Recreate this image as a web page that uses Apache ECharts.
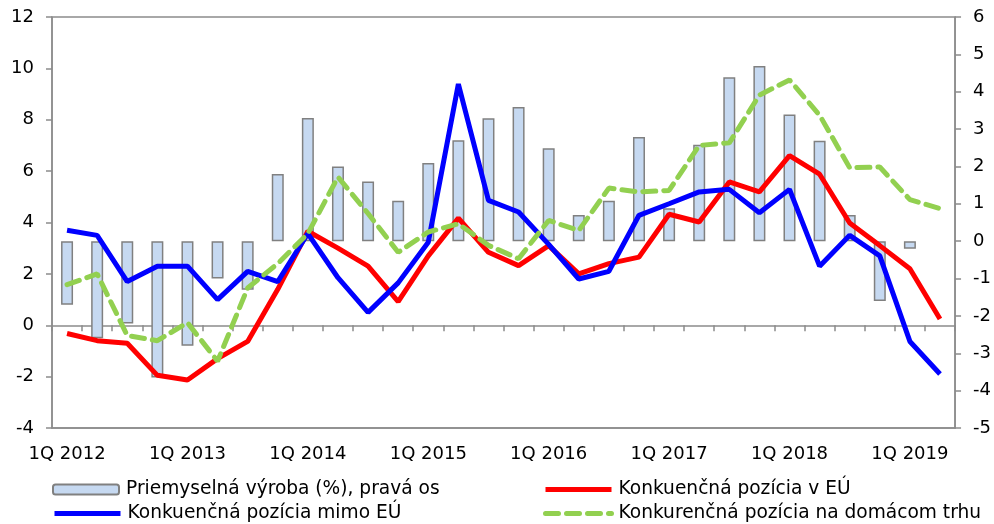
<!DOCTYPE html>
<html>
<head>
<meta charset="utf-8">
<script src="https://cdn.jsdelivr.net/npm/echarts@6/dist/echarts.min.js"></script>
<style>
  html, body { margin: 0; padding: 0; background: #fff; }
  #chart { width: 994px; height: 524px; }
</style>
</head>
<body>
<div id="chart"></div>
<script>
const years = [2012, 2013, 2014, 2015, 2016, 2017, 2018, 2019];
const quarters = [];
years.forEach(y => {
    for (let q = 1; q <= 4; q++) quarters.push(q + "Q " + y);
});
const categories = quarters.slice(0, 30);

// priemyselna vyroba, prava os
const industry = [-1.7, -2.6, -2.2, -3.65, -2.8, -1.0, -1.3, 1.8, 3.3, 2.0, 1.6, 1.08, 2.09, 2.7, 3.29, 3.59, 2.49, 0.7, 1.08, 2.79, 0.88, 2.58, 4.39, 4.69, 3.39, 2.69, 0.7, -1.6, -0.2, null];
// konkurencna pozicia v EU
const inEU = [-0.32, -0.6, -0.7, -1.95, -2.13, -1.3, -0.63, 1.4, 3.66, 3.0, 2.3, 0.92, 2.7, 4.17, 2.84, 2.32, 3.1, 2.0, 2.4, 2.65, 4.32, 4.02, 5.58, 5.19, 6.6, 5.88, 3.98, 3.1, 2.2, 0.24];
// konkurencna pozicia mimo EU
const outEU = [3.7, 3.5, 1.7, 2.3, 2.3, 1.0, 2.1, 1.7, 3.57, 1.85, 0.5, 1.65, 3.23, 9.39, 4.86, 4.41, 3.15, 1.8, 2.1, 4.28, 4.73, 5.19, 5.29, 4.38, 5.29, 2.3, 3.5, 2.7, -0.63, -1.9];
// konkurencna pozicia na domacom trhu
const domestic = [1.58, 2.0, -0.4, -0.6, 0.1, -1.4, 1.45, 2.4, 3.57, 5.77, 4.35, 2.84, 3.63, 3.95, 3.11, 2.59, 4.08, 3.69, 5.34, 5.19, 5.25, 7.0, 7.1, 8.96, 9.55, 8.18, 6.13, 6.16, 4.89, 4.54];

const names = [
    "Priemyselná výroba (%), pravá os",
    "Konkuenčná pozícia v EÚ",
    "Konkuenčná pozícia mimo EÚ",
    "Konkurenčná pozícia na domácom trhu"
];

const font = "DejaVu Sans";
const axisColor = "#8c8c8c";

const chart = echarts.init(document.getElementById("chart"));

function legendAt(i, left, top, lineItem) {
    const lg = {
        data: [names[i]],
        left: left,
        top: top,
        padding: 0,
        itemWidth: 66,
        itemHeight: 10,
        itemGap: 0,
        textStyle: { fontFamily: font, fontSize: 18.6, color: "#000", padding: [0, 0, 0, 2] }
    };
    if (lineItem) {
        lg.itemStyle = { opacity: 0 };
        lg.lineStyle = { width: 5 };
    }
    return lg;
}

chart.setOption({
    animation: false,
    grid: {
        left: 52, right: 37, top: 17, bottom: 96,
        show: true, borderColor: axisColor, borderWidth: 1.5
    },
    legend: [
        legendAt(0, 52, 480, false),
        legendAt(1, 543, 480, true),
        legendAt(2, 52, 504, true),
        legendAt(3, 543, 504, true)
    ],
    xAxis: [
        {
            type: "category",
            data: categories,
            position: "bottom",
            axisLine: { show: true, onZero: false, lineStyle: { color: axisColor, width: 1.5 } },
            axisTick: { show: false },
            axisLabel: { interval: 3, margin: 17, fontFamily: font, fontSize: 18, color: "#000" }
        },
        {
            type: "category",
            data: categories,
            position: "bottom",
            axisLine: { show: true, onZero: true, onZeroAxisIndex: 0, lineStyle: { color: axisColor, width: 1.5 } },
            axisTick: { show: true, interval: 0, length: 6, lineStyle: { color: axisColor, width: 1.5 } },
            axisLabel: { show: false }
        }
    ],
    yAxis: [
        {
            type: "value",
            min: -4, max: 12, interval: 2,
            axisLine: { show: true, lineStyle: { color: axisColor, width: 1.5 } },
            axisTick: { show: true, length: 6, lineStyle: { color: axisColor, width: 1.5 } },
            splitLine: { show: false },
            axisLabel: { margin: 18, fontFamily: font, fontSize: 18, color: "#000" }
        },
        {
            type: "value",
            min: -5, max: 6, interval: 1,
            position: "right",
            axisLine: { show: true, lineStyle: { color: axisColor, width: 1.5 } },
            axisTick: { show: true, length: 6, lineStyle: { color: axisColor, width: 1.5 } },
            splitLine: { show: false },
            axisLabel: { margin: 18, fontFamily: font, fontSize: 18, color: "#000" }
        }
    ],
    series: [
        {
            name: names[0],
            type: "bar",
            yAxisIndex: 1,
            data: industry,
            barWidth: 12,
            itemStyle: { color: "#c6d9f1", borderColor: "#808080", borderWidth: 1.5 }
        },
        {
            name: names[1],
            type: "line",
            data: inEU,
            symbol: "none",
            lineStyle: { color: "#ff0000", width: 5 },
            itemStyle: { color: "#ff0000" }
        },
        {
            name: names[2],
            type: "line",
            data: outEU,
            symbol: "none",
            lineStyle: { color: "#0000ff", width: 5 },
            itemStyle: { color: "#0000ff" }
        },
        {
            name: names[3],
            type: "line",
            data: domestic,
            symbol: "none",
            lineStyle: { color: "#92d050", width: 5, type: [13, 8], cap: "round" },
            itemStyle: { color: "#92d050" }
        }
    ]
});
</script>
</body>
</html>
